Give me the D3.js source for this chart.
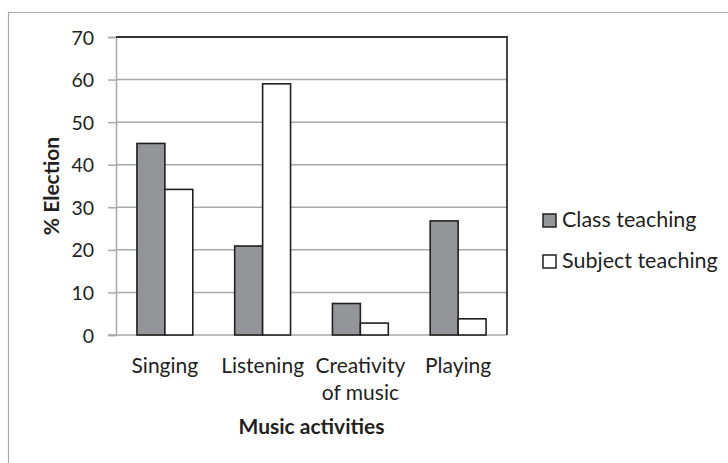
<!DOCTYPE html>
<html><head><meta charset="utf-8">
<script src="https://cdn.jsdelivr.net/npm/d3@7/dist/d3.min.js"></script>
<style>body{margin:0;background:#fff}svg{display:block}text{font-family:Lato,"Open Sans",sans-serif;fill:#231f20}</style>
</head><body><svg id="c" width="728" height="463"></svg>
<script>
const categories = [["Singing"], ["Listening"], ["Creativity", "of music"], ["Playing"]];
const seriesNames = ["Class teaching", "Subject teaching"];
const classTeaching = [45, 20.9, 7.4, 26.8];
const subjectTeaching = [34.2, 59.0, 2.8, 3.8];
const yTicks = [0, 10, 20, 30, 40, 50, 60, 70];
const fills = ["#939598", "#ffffff"];

const svg = d3.select("#c");
const m = {l: 116, t: 37, r: 507, b: 335};
// outer frame
svg.append("path").attr("d", "M8.5,463V12.5H728").attr("fill", "none").attr("stroke", "#a7a9ac").attr("stroke-width", 1.2);

const x = d3.scaleBand().domain(d3.range(categories.length)).range([m.l, m.r]).paddingInner(0).paddingOuter(0);
const y = d3.scaleLinear().domain([0, 70]).range([m.b, m.t]);
const xs = d3.scaleBand().domain([0, 1]).range([0, x.bandwidth()]).paddingInner(0).paddingOuter(0.75);

// gridlines
svg.append("g").selectAll("line").data(yTicks.filter(t => t > 0 && t < 70)).join("line")
  .attr("x1", m.l).attr("x2", m.r).attr("y1", d => y(d)).attr("y2", d => y(d))
  .attr("stroke", "#a7a9ac").attr("stroke-width", 1.5);

// y axis
const ya = d3.axisLeft(y).tickValues(yTicks).tickSize(8).tickPadding(14);
const gy = svg.append("g").attr("transform", `translate(${m.l},0)`).call(ya);
gy.select(".domain").attr("stroke", "#a7a9ac").attr("stroke-width", 1.5);
gy.selectAll(".tick line").attr("stroke", "#a7a9ac").attr("stroke-width", 1.5);
gy.selectAll(".tick text").attr("font-size", 19.5).attr("font-family", "Lato").attr("fill", "#231f20").attr("dy", "0.36em");

// x axis baseline
svg.append("line").attr("x1", m.l - 8).attr("x2", m.r).attr("y1", m.b).attr("y2", m.b).attr("stroke", "#a7a9ac").attr("stroke-width", 1.5);

// top & right border
svg.append("path").attr("d", `M${m.l},${m.t}H${m.r}V${m.b}`).attr("fill", "none").attr("stroke", "#333").attr("stroke-width", 1.8);

// bars
const series = [classTeaching, subjectTeaching];
series.forEach((vals, si) => {
  svg.append("g").selectAll("rect").data(vals).join("rect")
    .attr("x", (d, i) => x(i) + xs(si))
    .attr("width", xs.bandwidth())
    .attr("y", d => y(d))
    .attr("height", d => y(0) - y(d))
    .attr("fill", fills[si]).attr("stroke", "#231f20").attr("stroke-width", 1.6);
});

// category labels
const cl = svg.append("g");
categories.forEach((lines, i) => {
  const t = cl.append("text").attr("text-anchor", "middle").attr("font-size", 21)
    .attr("x", x(i) + x.bandwidth() / 2).attr("y", 373);
  lines.forEach((ln, j) => t.append("tspan").attr("x", x(i) + x.bandwidth() / 2).attr("dy", j ? 27 : 0).text(ln));
});

// axis titles
svg.append("text").attr("x", (m.l + m.r) / 2).attr("y", 434).attr("text-anchor", "middle")
  .attr("font-size", 21).attr("font-weight", "bold").text("Music activities");
svg.append("text").attr("transform", `translate(59,${(m.t + m.b) / 2}) rotate(-90)`).attr("text-anchor", "middle")
  .attr("font-size", 21).attr("font-weight", "bold").text("% Election");

// legend
const lg = svg.append("g");
seriesNames.forEach((n, i) => {
  const yy = 214 + i * 41;
  lg.append("rect").attr("x", 543).attr("y", yy).attr("width", 13).attr("height", 13)
    .attr("fill", fills[i]).attr("stroke", "#231f20").attr("stroke-width", 1.5);
  lg.append("text").attr("x", 562).attr("y", yy + 13).attr("font-size", 21.5).text(n);
});
</script></body></html>
